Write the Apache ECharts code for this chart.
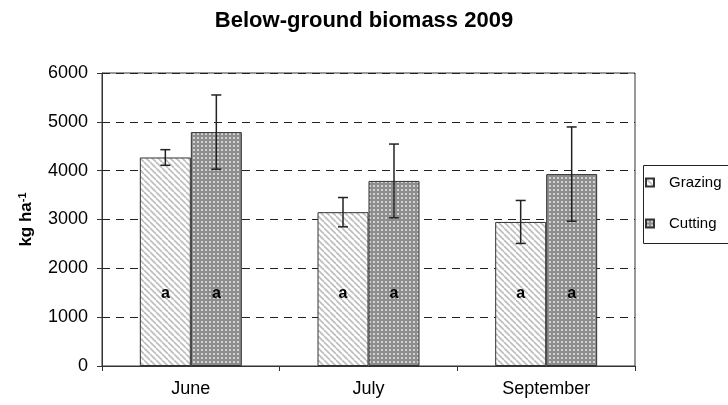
<!DOCTYPE html>
<html>
<head>
<meta charset="utf-8">
<script src="https://cdn.jsdelivr.net/npm/echarts@6/dist/echarts.min.js"></script>
<style>
  html, body { margin: 0; padding: 0; background: #fff; }
  #main { width: 728px; height: 405px; }
</style>
</head>
<body>
<div id="main"></div>
<script>
// values (kg/ha)
const months = ['June', 'July', 'September'];
const grazing = [4270, 3150, 2950];
const grazingErr = [160, 300, 440];
const cutting = [4790, 3790, 3930];
const cuttingErr = [760, 755, 965];
const grazingLetters = ['a', 'a', 'a'];
const cuttingLetters = ['a', 'a', 'a'];
const yTicks = [0, 1000, 2000, 3000, 4000, 5000, 6000];

const FONT = 'Liberation Sans';
const BAR_W = 0.287; // share of category width per bar

// fill patterns
function hatch() {
  const c = document.createElement('canvas');
  c.width = 6; c.height = 6;
  const g = c.getContext('2d');
  g.fillStyle = '#fff';
  g.fillRect(0, 0, 6, 6);
  g.strokeStyle = '#bdbdbd';
  g.lineWidth = 1.6;
  for (let k = -6; k <= 6; k += 6) {
    g.beginPath();
    g.moveTo(k, 0);
    g.lineTo(k + 6, 6);
    g.stroke();
  }
  return c;
}
function dots() {
  const c = document.createElement('canvas');
  c.width = 4; c.height = 4;
  const g = c.getContext('2d');
  g.fillStyle = '#8e8e8e';
  g.fillRect(0, 0, 4, 4);
  g.fillStyle = '#d2d2d2';
  g.fillRect(1, 1, 2, 2);
  return c;
}

const hatchFill = { image: hatch(), repeat: 'repeat' };
const dotFill = { image: dots(), repeat: 'repeat' };

function errData(means, errs) {
  return means.map((m, i) => [i, m - errs[i], m + errs[i]]);
}

function errSeries(name, means, errs, side) {
  return {
    name: name + ' err',
    type: 'custom',
    data: errData(means, errs),
    z: 5,
    silent: true,
    renderItem: function (params, api) {
      const catW = api.size([1, 0])[0];
      const dx = side * catW * BAR_W / 2;
      const lo = api.coord([api.value(0), api.value(1)]);
      const hi = api.coord([api.value(0), api.value(2)]);
      const x = lo[0] + dx;
      const cap = 5;
      const st = { stroke: '#222', lineWidth: 1.5 };
      return {
        type: 'group',
        children: [
          { type: 'line', shape: { x1: x, y1: lo[1], x2: x, y2: hi[1] }, style: st },
          { type: 'line', shape: { x1: x - cap, y1: lo[1], x2: x + cap, y2: lo[1] }, style: st },
          { type: 'line', shape: { x1: x - cap, y1: hi[1], x2: x + cap, y2: hi[1] }, style: st }
        ]
      };
    }
  };
}

function barSeries(name, values, letters, fill) {
  return {
    name: name,
    type: 'bar',
    barWidth: (BAR_W * 100) + '%',
    barGap: '0%',
    data: values,
    itemStyle: { color: fill, borderColor: '#333', borderWidth: 1 },
    label: {
      show: true,
      position: 'insideBottom',
      distance: 64,
      formatter: p => letters[p.dataIndex],
      fontFamily: FONT,
      fontWeight: 'bold',
      fontSize: 16,
      color: '#000',
      textBorderWidth: 0,
      textBorderColor: 'transparent'
    }
  };
}

const chart = echarts.init(document.getElementById('main'), null, { renderer: 'canvas' });
chart.setOption({
  animation: false,
  backgroundColor: '#fff',
  textStyle: { fontFamily: FONT },
  title: {
    text: 'Below-ground biomass 2009',
    left: 'center',
    top: 5,
    textStyle: { fontFamily: FONT, fontWeight: 'bold', fontSize: 22, color: '#000' }
  },
  legend: {
    data: ['Grazing', 'Cutting'],
    orient: 'vertical',
    left: 641,
    top: 163,
    padding: [12, 20, 12, 4],
    itemGap: 26,
    itemWidth: 8,
    itemHeight: 8,
    icon: 'rect',
    textStyle: { fontFamily: FONT, fontSize: 15, color: '#000', padding: [0, 0, 0, 10] }
  },
  // legend frame, running off the right edge as in the source figure
  graphic: [{
    type: 'rect',
    left: 641,
    top: 163,
    shape: { width: 120, height: 78 },
    style: { fill: 'none', stroke: '#222', lineWidth: 1 },
    silent: true
  }],
  grid: {
    left: 102, right: 93, top: 73, bottom: 39,
    show: true, borderColor: '#333', borderWidth: 1
  },
  xAxis: {
    type: 'category',
    data: months,
    axisLine: { lineStyle: { color: '#333' } },
    axisTick: { show: true, length: 5, lineStyle: { color: '#333' } },
    axisLabel: { fontFamily: FONT, fontSize: 18, color: '#000', margin: 14 }
  },
  yAxis: {
    type: 'value',
    min: yTicks[0],
    max: yTicks[yTicks.length - 1],
    interval: 1000,
    name: '{b|kg ha}{s|-1}',
    nameLocation: 'middle',
    nameRotate: 90,
    nameGap: 66,
    nameTextStyle: {
      rich: {
        b: { fontFamily: FONT, fontWeight: 'bold', fontSize: 17, color: '#000' },
        s: { fontFamily: FONT, fontWeight: 'bold', fontSize: 11, color: '#000', padding: [0, 0, 8, 0] }
      }
    },
    axisLine: { show: true, lineStyle: { color: '#333' } },
    axisTick: { show: true, length: 5, lineStyle: { color: '#333' } },
    axisLabel: { fontFamily: FONT, fontSize: 18, color: '#000', margin: 14, formatter: v => String(v) },
    splitLine: { lineStyle: { color: '#222', type: [8, 6], width: 1 } }
  },
  series: [
    barSeries('Grazing', grazing, grazingLetters, hatchFill),
    barSeries('Cutting', cutting, cuttingLetters, dotFill),
    errSeries('Grazing', grazing, grazingErr, -1),
    errSeries('Cutting', cutting, cuttingErr, 1)
  ]
});
</script>
</body>
</html>
